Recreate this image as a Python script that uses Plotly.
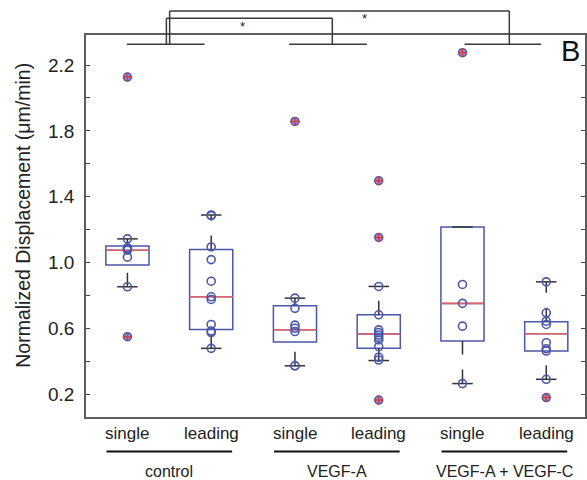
import plotly.graph_objects as go

# Groups and the two cell types inside each group
groups = ["control", "VEGF-A", "VEGF-A + VEGF-C"]
cells = ["single", "leading", "single", "leading", "single", "leading"]
positions = [1, 2, 3, 4, 5, 6]

# Box statistics per box (normalized displacement, µm/min)
q1 = [0.986, 0.594, 0.517, 0.480, 0.523, 0.463]
median = [1.075, 0.792, 0.592, 0.566, 0.752, 0.568]
q3 = [1.100, 1.079, 0.738, 0.683, 1.216, 0.640]
whisker_lo = [0.853, 0.479, 0.373, 0.405, 0.265, 0.291]
whisker_hi = [1.144, 1.289, 0.784, 0.855, 1.216, 0.883]

# Individual measurements and outliers per box
points = [
    [1.144, 1.090, 1.082, 1.075, 1.033, 0.853],
    [1.289, 1.285, 1.095, 1.018, 0.887, 0.792, 0.776, 0.624, 0.584, 0.575, 0.479],
    [0.784, 0.722, 0.620, 0.601, 0.581, 0.373, 0.373],
    [0.855, 0.683, 0.591, 0.575, 0.560, 0.546, 0.530, 0.489, 0.425, 0.408],
    [0.867, 0.752, 0.614, 0.265],
    [0.883, 0.695, 0.644, 0.624, 0.513, 0.477, 0.463, 0.291],
]
outliers = [
    [2.127, 0.550],
    [],
    [1.857],
    [1.497, 1.153, 0.165],
    [2.275],
    [0.180],
]

y_ticks = [0.2, 0.4, 0.6, 0.8, 1.0, 1.2, 1.4, 1.6, 1.8, 2.0, 2.2]
y_ticktext = ["0.2", "", "0.6", "", "1.0", "", "1.4", "", "1.8", "", "2.2"]

FONT = "Liberation Sans, Arial, sans-serif"
BLUE = "#4b57a8"
RED = "#e4606a"
DARK = "#333333"
FRAME = "#5c5c5c"

X0, X1 = 0.5054, 6.4625
Y0, Y1 = 0.0621, 2.3822
BOX_W = 0.515
CAP_W = 0.245


def px(x):
    return (x - X0) / (X1 - X0)


def py(v):
    return (v - Y0) / (Y1 - Y0)


fig = go.Figure()

# Boxes (whiskers drawn separately as dashed lines)
for i, p in enumerate(positions):
    fig.add_trace(go.Box(
        x=[p], q1=[q1[i]], median=[median[i]], q3=[q3[i]],
        lowerfence=[q1[i]], upperfence=[q3[i]],
        width=BOX_W, whiskerwidth=0, boxpoints=False,
        line=dict(color=BLUE, width=1.5), fillcolor="rgba(0,0,0,0)",
        hoverinfo="skip", showlegend=False,
    ))

# Whiskers: dashed, drawn upward from their lower end
for i, p in enumerate(positions):
    for lo, hi in ((whisker_lo[i], q1[i]), (q3[i], whisker_hi[i])):
        if hi - lo <= 0:
            continue
        fig.add_trace(go.Scatter(
            x=[p, p], y=[lo, hi], mode="lines",
            line=dict(color=DARK, width=1.5, dash="14px,15px"),
            hoverinfo="skip", showlegend=False,
        ))
    # whisker caps
    for v in (whisker_lo[i], whisker_hi[i]):
        fig.add_trace(go.Scatter(
            x=[p - CAP_W / 2, p + CAP_W / 2], y=[v, v], mode="lines",
            line=dict(color=DARK, width=1.5),
            hoverinfo="skip", showlegend=False,
        ))
    # median
    fig.add_trace(go.Scatter(
        x=[p - BOX_W / 2, p + BOX_W / 2], y=[median[i], median[i]], mode="lines",
        line=dict(color=RED, width=1.6),
        hoverinfo="skip", showlegend=False,
    ))

# Measurements
for i, p in enumerate(positions):
    fig.add_trace(go.Scatter(
        x=[p] * len(points[i]), y=points[i], mode="markers",
        marker=dict(symbol="circle-open", size=8, color=BLUE, line=dict(width=1.6)),
        hoverinfo="y", showlegend=False,
    ))
    if outliers[i]:
        fig.add_trace(go.Scatter(
            x=[p] * len(outliers[i]), y=outliers[i], mode="markers",
            marker=dict(symbol="circle", size=8, color="#8d8fd2",
                        line=dict(color=BLUE, width=1.5)),
            hoverinfo="y", showlegend=False,
        ))
        fig.add_trace(go.Scatter(
            x=[p] * len(outliers[i]), y=outliers[i], mode="markers",
            marker=dict(symbol="cross-thin", size=6, color="#e23a3a",
                        line=dict(color="#e23a3a", width=1.5)),
            hoverinfo="skip", showlegend=False,
        ))

shapes = []
annotations = []


def seg(x0, y0, x1, y1, width=1.5, color="#3a3a3a"):
    shapes.append(dict(type="line", xref="paper", yref="paper",
                       x0=px(x0), y0=py(y0), x1=px(x1), y1=py(y1),
                       line=dict(color=color, width=width)))


# Group bars and significance brackets
BAR_Y = 2.326
for a, b in ((0.993, 1.920), (2.931, 3.858), (5.024, 5.939)):
    seg(a, BAR_Y, b, BAR_Y)
for xa, xb, top in ((1.465, 3.446, 2.484), (1.504, 5.559, 2.528)):
    seg(xa, BAR_Y, xa, top)
    seg(xa, top, xb, top)
    seg(xb, top, xb, BAR_Y)
for sx, sy in ((2.376, 2.435), (3.831, 2.480)):
    annotations.append(dict(x=px(sx), y=py(sy), xref="paper", yref="paper",
                            text="*", showarrow=False, xanchor="center", yanchor="middle",
                            font=dict(family=FONT, size=13, color="#222")))

# Category labels below the axis
PLOT_TOP, PLOT_H = 35, 382


def ypix(pix):
    return (PLOT_TOP + PLOT_H - pix) / PLOT_H


for p, c in zip(positions, cells):
    annotations.append(dict(x=px(p), y=ypix(433.5), xref="paper", yref="paper",
                            text=c, showarrow=False, xanchor="center", yanchor="middle",
                            font=dict(family=FONT, size=17, color="#222")))
for k, g in enumerate(groups):
    c = 1.5 + 2 * k
    shapes.append(dict(type="line", xref="paper", yref="paper",
                       x0=px(c - 0.75), x1=px(c + 0.75), y0=ypix(451.5), y1=ypix(451.5),
                       line=dict(color="#111", width=2)))
    annotations.append(dict(x=px(c), y=ypix(471.5), xref="paper", yref="paper",
                            text=g, showarrow=False, xanchor="center", yanchor="middle",
                            font=dict(family=FONT, size=16, color="#222")))

# Axis title and panel letter
annotations.append(dict(x=(22.5 - 86) / 501, y=ypix(215), xref="paper", yref="paper",
                        text="Normalized Displacement (μm/min)", textangle=-90,
                        showarrow=False, xanchor="center", yanchor="middle",
                        font=dict(family=FONT, size=19.5, color="#222")))
annotations.append(dict(x=(572 - 86) / 501, y=ypix(51.5), xref="paper", yref="paper",
                        text="B", showarrow=False, xanchor="center", yanchor="middle",
                        font=dict(family=FONT, size=29, color="#111")))

fig.update_layout(
    width=587, height=480,
    margin=dict(l=86, r=0, t=35, b=63),
    paper_bgcolor="white", plot_bgcolor="white",
    showlegend=False,
    shapes=shapes, annotations=annotations,
    xaxis=dict(range=[X0, X1], showticklabels=False, ticks="", showgrid=False,
               zeroline=False, showline=True, mirror=True,
               linecolor=FRAME, linewidth=1.5),
    yaxis=dict(range=[Y0, Y1], tickvals=y_ticks, ticktext=y_ticktext,
               ticks="inside", ticklen=4, tickwidth=1.3, tickcolor="#444",
               showgrid=False, zeroline=False, showline=True, mirror="ticks",
               linecolor=FRAME, linewidth=1.5, ticklabelstandoff=6,
               tickfont=dict(family=FONT, size=19, color="#222")),
)

fig.write_html("out.html")
